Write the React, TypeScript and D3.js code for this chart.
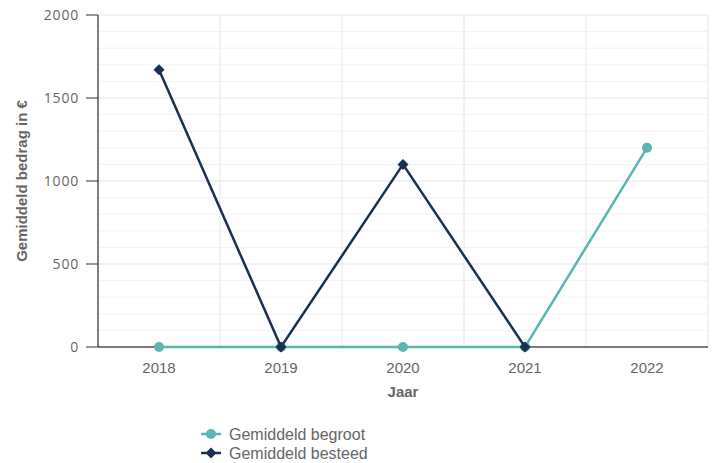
import React from "react";
import * as d3 from "d3";

const years = ["2018", "2019", "2020", "2021", "2022"];
const begroot: (number | null)[] = [0, 0, 0, 0, 1200];
const besteed: (number | null)[] = [1670, 0, 1100, 0, null];
const yTicks = [0, 500, 1000, 1500, 2000];
const minorTicks = d3.range(0, 2001, 100);

const W = 715, H = 463;
const M = { left: 98, right: 708, top: 15, bottom: 347 };
const teal = "#5bb5b0";
const navy = "#19304f";

export default function App() {
  const x = d3.scaleBand<string>().domain(years).range([M.left, M.right]);
  const y = d3.scaleLinear().domain([0, 2000]).range([M.bottom, M.top]);
  const cx = (d: string) => (x(d) as number) + x.bandwidth() / 2;
  const lineGen = d3
    .line<[string, number | null]>()
    .defined((d) => d[1] !== null)
    .x((d) => cx(d[0]))
    .y((d) => y(d[1] as number));
  const bgData = years.map((yr, i) => [yr, begroot[i]] as [string, number | null]);
  const bsData = years.map((yr, i) => [yr, besteed[i]] as [string, number | null]);
  const r = 5.5;
  const diamond = `M0,${-r}L${r},0L0,${r}L${-r},0Z`;
  const font = "'Open Sans', sans-serif";
  const arial = "'Liberation Sans', Arial, sans-serif";

  return (
    <svg width={W} height={H} style={{ position: "absolute", left: 0, top: 0 }}>
      {minorTicks.map((t) => (
        <line key={"m" + t} x1={M.left} x2={M.right} y1={y(t)} y2={y(t)} stroke={t % 500 === 0 ? "#e6e6e6" : "#f2f2f2"} strokeWidth={1} />
      ))}
      {years.slice(1).map((yr) => (
        <line key={"v" + yr} x1={x(yr) as number} x2={x(yr) as number} y1={M.top} y2={M.bottom} stroke="#e6e6e6" />
      ))}
      <line x1={M.right} x2={M.right} y1={M.top} y2={M.bottom} stroke="#e6e6e6" />
      <line x1={M.left} x2={M.left} y1={M.top} y2={M.bottom} stroke="#000" strokeWidth={1} />
      <line x1={M.left} x2={M.right} y1={M.bottom} y2={M.bottom} stroke="#000" strokeWidth={1} />
      {yTicks.map((t) => (
        <g key={"yt" + t}>
          <line x1={M.left - 12} x2={M.left} y1={y(t)} y2={y(t)} stroke="#333" strokeWidth={1} />
          <text x={79} y={y(t)} dy="0.35em" textAnchor="end" fontFamily={font} fontSize={14} fill="#666" letterSpacing={0.8}>
            {t}
          </text>
        </g>
      ))}
      {years.map((yr) => (
        <text key={"xt" + yr} x={cx(yr)} y={373} textAnchor="middle" fontFamily={arial} fontSize={15} fill="#666">
          {yr}
        </text>
      ))}
      <text x={cx("2020")} y={397} textAnchor="middle" fontFamily={arial} fontSize={15} fontWeight="bold" fill="#666">
        Jaar
      </text>
      <text transform={`translate(27,${(M.top + M.bottom) / 2}) rotate(-90)`} textAnchor="middle" fontFamily={arial} fontSize={15} fontWeight="bold" fill="#666">
        Gemiddeld bedrag in €
      </text>
      <path d={lineGen(bgData) as string} fill="none" stroke={teal} strokeWidth={2.5} />
      {bgData.filter((d) => d[1] !== null).map((d) => (
        <circle key={"c" + d[0]} cx={cx(d[0])} cy={y(d[1] as number)} r={5} fill={teal} />
      ))}
      <path d={lineGen(bsData) as string} fill="none" stroke={navy} strokeWidth={2.5} />
      {bsData.filter((d) => d[1] !== null).map((d) => (
        <path key={"d" + d[0]} d={diamond} transform={`translate(${cx(d[0])},${y(d[1] as number)})`} fill={navy} />
      ))}
      <g>
        <line x1={201} x2={221} y1={434} y2={434} stroke={teal} strokeWidth={2.5} />
        <circle cx={211} cy={434} r={5} fill={teal} />
        <text x={229} y={434} dy="0.35em" fontFamily={arial} fontSize={16} fill="#666">
          Gemiddeld begroot
        </text>
        <line x1={201} x2={221} y1={453} y2={453} stroke={navy} strokeWidth={2.5} />
        <path d={diamond} transform="translate(211,453)" fill={navy} />
        <text x={229} y={453} dy="0.35em" fontFamily={arial} fontSize={16} fill="#666">
          Gemiddeld besteed
        </text>
      </g>
    </svg>
  );
}
